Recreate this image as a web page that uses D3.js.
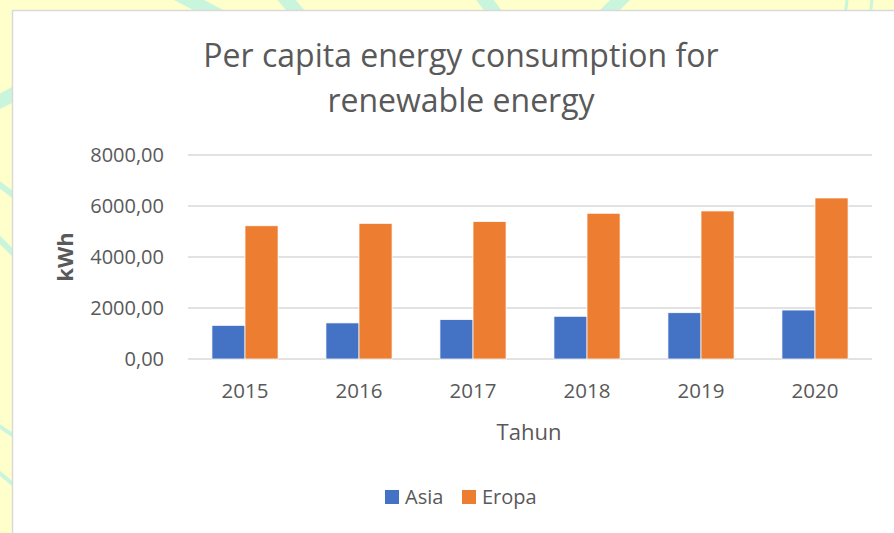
<!DOCTYPE html>
<html><head><meta charset="utf-8">
<script src="https://cdn.jsdelivr.net/npm/d3@7"></script>
<style>body{margin:0;background:#ffffcc;overflow:hidden}svg{display:block}</style>
</head><body><svg id="c" width="894" height="533"></svg>
<script>
const years = ["2015","2016","2017","2018","2019","2020"];
const asia = [1320, 1415, 1545, 1675, 1815, 1920];
const eropa = [5225, 5320, 5390, 5715, 5805, 6315];
const seriesNames = ["Asia","Eropa"];
const seriesColors = ["#4472c4","#ed7d31"];
const yTicks = [0, 2000, 4000, 6000, 8000];
const titleLines = ["Per capita energy consumption for","renewable energy"];

const svg = d3.select("#c");
const font = "'Open Sans', Lato, sans-serif";

// background decoration strokes
const deco = svg.append("g").attr("stroke","#c8f5dc").attr("fill","none").attr("stroke-width",14);
deco.append("path").attr("d","M150,-20 Q250,30 330,80");
deco.append("path").attr("d","M270,-20 L320,40");
deco.append("path").attr("d","M470,-20 L500,20");
deco.append("path").attr("d","M640,-20 Q600,20 560,60");
deco.append("path").attr("d","M-20,110 Q5,100 20,90");
deco.append("path").attr("d","M-20,170 L20,200").attr("stroke-width",6);
deco.append("path").attr("d","M-10,230 L20,260").attr("stroke-width",6);
deco.append("path").attr("d","M-10,420 L20,440").attr("stroke-width",4);
deco.append("path").attr("d","M-10,465 L20,490").attr("stroke-width",4);
deco.append("path").attr("d","M847,0 L845,16").attr("stroke-width",3);
deco.append("path").attr("d","M872,0 L870,16").attr("stroke-width",3);

// white panel
svg.append("rect").attr("x",12.5).attr("y",10.5).attr("width",900).attr("height",540)
  .attr("fill","#fff").attr("stroke","#d9d9d9").attr("stroke-width",1.5);

const x0 = 188, x1 = 872, yTop = 155, yBot = 359;
const x = d3.scaleBand().domain(years).range([x0,x1]).paddingInner(0.42).paddingOuter(0.21);
const xs = d3.scaleBand().domain(seriesNames).range([0,x.bandwidth()]);
const y = d3.scaleLinear().domain([0,8000]).range([yBot,yTop]);

// gridlines
svg.append("g").selectAll("line").data(yTicks).join("line")
  .attr("x1",x0).attr("x2",x1).attr("y1",d=>y(d)).attr("y2",d=>y(d))
  .attr("stroke","#d9d9d9").attr("stroke-width",1.5);

// y labels
const fmt = d => d3.format(".2f")(d).replace(".",",");
svg.append("g").selectAll("text").data(yTicks).join("text")
  .attr("x",164).attr("y",d=>y(d)).attr("dy","0.35em").attr("text-anchor","end")
  .attr("font-family",font).attr("font-size",20).attr("fill","#595959").text(fmt);

// bars
const data = [asia, eropa];
seriesNames.forEach((s,i)=>{
  svg.append("g").selectAll("rect").data(years).join("rect")
    .attr("x",d=>x(d)+xs(s)).attr("width",xs.bandwidth())
    .attr("y",(d,j)=>y(data[i][j])).attr("height",(d,j)=>yBot-y(data[i][j]))
    .attr("fill",seriesColors[i]).attr("stroke","#fff").attr("stroke-width",0.75);
});

// x labels
svg.append("g").selectAll("text").data(years).join("text")
  .attr("x",d=>x(d)+x.bandwidth()/2).attr("y",398).attr("text-anchor","middle")
  .attr("font-family",font).attr("font-size",20.5).attr("fill","#595959").text(d=>d);

// axis titles
svg.append("text").attr("x",529).attr("y",440).attr("text-anchor","middle")
  .attr("font-family",font).attr("font-size",22).attr("fill","#595959").text("Tahun");
svg.append("text").attr("transform","translate(73,257) rotate(-90)").attr("text-anchor","middle")
  .attr("font-family",font).attr("font-size",22).attr("font-weight","bold").attr("fill","#595959").text("kWh");

// title
svg.append("g").selectAll("text").data(titleLines).join("text")
  .attr("x",461).attr("y",(d,i)=>67+i*45).attr("text-anchor","middle")
  .attr("font-family",font).attr("font-size",32).attr("fill","#595959").text(d=>d);

// legend
const lg = svg.append("g");
const lx = [385, 462];
seriesNames.forEach((s,i)=>{
  lg.append("rect").attr("x",lx[i]).attr("y",490).attr("width",14).attr("height",14).attr("fill",seriesColors[i]);
  lg.append("text").attr("x",lx[i]+20).attr("y",504).attr("font-family",font).attr("font-size",20)
    .attr("fill","#595959").text(s);
});
</script></body></html>
